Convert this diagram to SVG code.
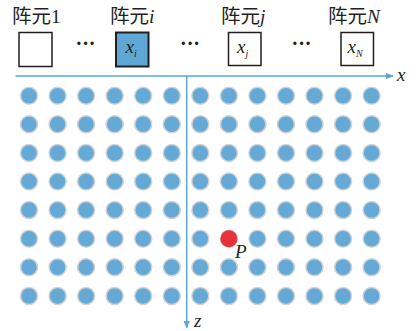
<svg xmlns="http://www.w3.org/2000/svg" width="417" height="331" viewBox="0 0 417 331">
<defs>
<style>
.lbl{font-family:"Liberation Serif","Noto Sans CJK SC",serif;font-size:19.5px;fill:#231f20}
.it{font-style:italic}
.var{font-family:"Liberation Serif",serif;font-style:italic;font-size:19px;fill:#231f20}
.box{fill:#fff;stroke:#231f20;stroke-width:1.5}
.dot{fill:#65a9d7;stroke:#d2d2d2;stroke-width:1.5}
.ax{stroke:#5ba6d8;stroke-width:1.5;fill:none}
.ell{font-family:"Liberation Serif",serif;font-size:20px;font-weight:bold;fill:#231f20}
</style>
<marker id="ah" viewBox="0 0 10 10" refX="9" refY="5" markerWidth="8" markerHeight="8" markerUnits="userSpaceOnUse" orient="auto">
<path d="M0,1 L10,5 L0,9 Z" fill="#5ba6d8"/>
</marker>
<circle id="c" r="8.5" class="dot"/>
<g id="row">
<use href="#c" x="29"/><use href="#c" x="57.6"/><use href="#c" x="86.1"/><use href="#c" x="114.7"/><use href="#c" x="143.2"/><use href="#c" x="171.8"/><use href="#c" x="200.3"/><use href="#c" x="228.9"/><use href="#c" x="257.4"/><use href="#c" x="286"/><use href="#c" x="314.5"/><use href="#c" x="343.1"/><use href="#c" x="371.6"/>
</g>
</defs>
<rect width="417" height="331" fill="#fff"/>
<g id="elem1">
<text class="lbl" x="12" y="23">阵元1</text>
<rect class="box" x="19" y="32.5" width="33" height="34"/>
</g>
<g id="elemi">
<text class="lbl" x="110" y="23">阵元<tspan class="it">i</tspan></text>
<rect class="box" x="116" y="32.5" width="32.5" height="34" style="fill:#5fa7d5;stroke-width:2"/>
<text class="var" x="125.5" y="52.5">x<tspan font-size="10" dy="4">i</tspan></text>
</g>
<g id="elemj">
<text class="lbl" x="221" y="23">阵元<tspan class="it">j</tspan></text>
<rect class="box" x="228.5" y="32.5" width="32.5" height="33"/>
<text class="var" x="237" y="52.5">x<tspan font-size="10" dy="4">j</tspan></text>
</g>
<g id="elemN">
<text class="lbl" x="328" y="23">阵元<tspan class="it">N</tspan></text>
<rect class="box" x="341" y="32.5" width="32.5" height="33"/>
<text class="var" x="347.5" y="52.5">x<tspan font-size="10" dy="4">N</tspan></text>
</g>
<g id="ellipses">
<text class="ell" x="85.5" y="50" text-anchor="middle">···</text>
<text class="ell" x="190" y="50" text-anchor="middle">···</text>
<text class="ell" x="301.5" y="50" text-anchor="middle">···</text>
</g>
<g id="grid">
<use href="#row" y="95.7"/><use href="#row" y="124.3"/><use href="#row" y="152.9"/><use href="#row" y="181.5"/><use href="#row" y="210.1"/><use href="#row" y="238.7"/><use href="#row" y="267.3"/><use href="#row" y="295.9"/>
</g>
<g id="connectors">
<line class="ax" x1="15.5" y1="76" x2="393" y2="76" marker-end="url(#ah)"/>
<line class="ax" x1="186.7" y1="76" x2="186.7" y2="328" marker-end="url(#ah)"/>
</g>
<g id="pointP">
<circle cx="228.9" cy="238.7" r="8.5" fill="#e8323a"/>
<text class="var" x="235" y="258">P</text>
</g>
<text class="var" x="397" y="81">x</text>
<text class="var" x="194" y="327">z</text>
</svg>
